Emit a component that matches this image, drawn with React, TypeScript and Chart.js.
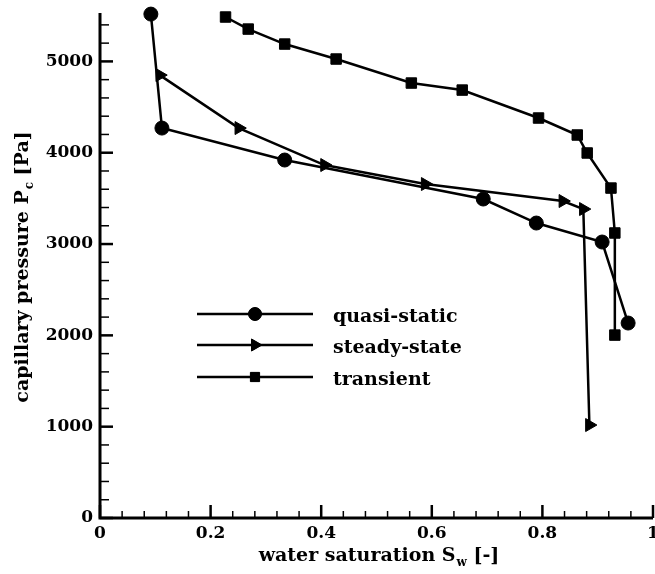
import React, { useEffect, useRef } from 'react';
import { Chart, registerables } from 'chart.js';
import { drawPoint } from 'chart.js/helpers';

Chart.register(...registerables);

// ---- data ----
const seriesNames = ['quasi-static', 'steady-state', 'transient'];

const quasiStaticSw = [0.092, 0.112, 0.334, 0.693, 0.789, 0.908, 0.955];
const quasiStaticPc = [5518, 4270, 3920, 3493, 3230, 3022, 2135];

const steadyStateSw = [0.108, 0.251, 0.406, 0.588, 0.837, 0.874, 0.885];
const steadyStatePc = [4850, 4270, 3865, 3657, 3471, 3383, 1018];

const transientSw = [0.227, 0.268, 0.334, 0.427, 0.563, 0.655, 0.793, 0.863, 0.881, 0.924, 0.931, 0.931];
const transientPc = [5486, 5354, 5190, 5026, 4763, 4686, 4380, 4194, 3997, 3613, 3121, 2003];

const xMajorTicks = [0, 0.2, 0.4, 0.6, 0.8, 1];
const xTickLabels = ['0', '0.2', '0.4', '0.6', '0.8', '1'];
const yMajorTicks = [0, 1000, 2000, 3000, 4000, 5000];
const yTickLabels = ['0', '1000', '2000', '3000', '4000', '5000'];
const xMinorStep = 0.04;
const yMinorStep = 200;
const xMin = 0;
const xMax = 1;
const yMin = 0;
const yMax = 5530;

const xTitle = ['water saturation S', 'w', ' [-]'];
const yTitle = ['capillary pressure P', 'c', ' [Pa]'];

// ---- styling ----
const FONT = 'DejaVu Serif';
const BLACK = '#000';

const pts = (xs: number[], ys: number[]) => xs.map((x, i) => ({ x, y: ys[i] }));

const majorIndex = (arr: number[], v: number) => arr.findIndex((m) => Math.abs(m - v) < 1e-6);

function minorTicks(min: number, max: number, step: number) {
  const out: { value: number }[] = [];
  const n = Math.floor((max - min) / step + 1e-6);
  for (let i = 0; i <= n; i++) out.push({ value: +(min + i * step).toFixed(6) });
  return out;
}

const markerStyles = [
  { pointStyle: 'circle', radius: 7, rotation: 0, legendRadius: 6.5 },
  { pointStyle: 'triangle', radius: 7.5, rotation: 90, legendRadius: 7 },
  { pointStyle: 'rect', radius: 7.4, rotation: 0, legendRadius: 6.5 },
];

function drawSubText(ctx: CanvasRenderingContext2D, parts: string[], cx: number, baseline: number) {
  const mainFont = `bold 19px "${FONT}"`;
  const subFont = `bold 12px "${FONT}"`;
  ctx.font = mainFont;
  const w1 = ctx.measureText(parts[0]).width;
  const w3 = ctx.measureText(parts[2]).width;
  ctx.font = subFont;
  const w2 = ctx.measureText(parts[1]).width;
  const total = w1 + w2 + w3 + 1;
  let x = cx - total / 2;
  ctx.textAlign = 'left';
  ctx.textBaseline = 'alphabetic';
  ctx.font = mainFont;
  ctx.fillText(parts[0], x, baseline);
  x += w1 + 1;
  ctx.font = subFont;
  ctx.fillText(parts[1], x, baseline + 5);
  x += w2;
  ctx.font = mainFont;
  ctx.fillText(parts[2], x, baseline);
}

const decorPlugin = {
  id: 'decor',
  afterDraw(chart: any) {
    const ctx: CanvasRenderingContext2D = chart.ctx;
    const xs = chart.scales.x;
    const ys = chart.scales.y;
    const { left, right, top, bottom } = chart.chartArea;
    ctx.save();
    ctx.strokeStyle = BLACK;
    ctx.fillStyle = BLACK;
    ctx.lineCap = 'butt';

    // inward tick marks
    xs.ticks.forEach((t: any, i: number) => {
      const px = xs.getPixelForTick(i);
      const major = majorIndex(xMajorTicks, t.value) >= 0;
      ctx.lineWidth = major ? 2.5 : 1.5;
      ctx.beginPath();
      ctx.moveTo(px, bottom);
      ctx.lineTo(px, bottom - (major ? 13 : 7));
      ctx.stroke();
    });
    ys.ticks.forEach((t: any, i: number) => {
      const py = ys.getPixelForTick(i);
      const major = majorIndex(yMajorTicks, t.value) >= 0;
      ctx.lineWidth = major ? 2.5 : 1.5;
      ctx.beginPath();
      ctx.moveTo(left, py);
      ctx.lineTo(left + (major ? 13 : 9), py);
      ctx.stroke();
    });

    // axis lines (left and bottom only)
    ctx.lineWidth = 3;
    ctx.beginPath();
    ctx.moveTo(left, top);
    ctx.lineTo(left, bottom + 1.5);
    ctx.moveTo(left - 1.5, bottom);
    ctx.lineTo(right, bottom);
    ctx.stroke();

    // axis titles
    drawSubText(ctx, xTitle, 379, 561);
    ctx.save();
    ctx.translate(28, 267);
    ctx.rotate(-Math.PI / 2);
    drawSubText(ctx, yTitle, 0, 0);
    ctx.restore();

    // legend
    const legendRows = [314, 345, 377];
    const lx0 = 197;
    const lx1 = 313;
    const lmx = 255;
    seriesNames.forEach((name, i) => {
      const y = legendRows[i];
      ctx.lineWidth = 2.5;
      ctx.beginPath();
      ctx.moveTo(lx0, y);
      ctx.lineTo(lx1, y);
      ctx.stroke();
      const m = markerStyles[i];
      ctx.lineWidth = 1;
      drawPoint(ctx, { pointStyle: m.pointStyle as any, radius: m.legendRadius, rotation: m.rotation, borderWidth: 1 } as any, lmx, y);
      ctx.fill();
      ctx.font = `bold 19px "${FONT}"`;
      ctx.textAlign = 'left';
      ctx.textBaseline = 'alphabetic';
      ctx.fillText(name, 333, y + 7.5);
    });
    ctx.restore();
  },
};

export default function App() {
  const canvasRef = useRef<HTMLCanvasElement | null>(null);

  useEffect(() => {
    document.body.style.margin = '0';
    document.body.style.overflow = 'hidden';
    const canvas = canvasRef.current;
    if (!canvas) return;

    const seriesData = [
      pts(quasiStaticSw, quasiStaticPc),
      pts(steadyStateSw, steadyStatePc),
      pts(transientSw, transientPc),
    ];

    const datasets = seriesNames.map((name, i) => ({
      label: name,
      data: seriesData[i],
      borderColor: BLACK,
      backgroundColor: BLACK,
      borderWidth: 2.5,
      pointBackgroundColor: BLACK,
      pointBorderColor: BLACK,
      pointBorderWidth: 1,
      pointRadius: markerStyles[i].radius,
      pointStyle: markerStyles[i].pointStyle as any,
      pointRotation: markerStyles[i].rotation,
      tension: 0,
      fill: false,
      clip: false as any,
    }));

    const tickFont = { family: FONT, weight: 'bold' as any, size: 17 };

    const chart = new Chart(canvas, {
      type: 'line',
      data: { datasets },
      plugins: [decorPlugin],
      options: {
        responsive: false,
        animation: false,
        events: [],
        layout: { autoPadding: false, padding: { top: 13, right: 2, left: 0, bottom: 0 } },
        plugins: {
          legend: { display: false },
          tooltip: { enabled: false },
        },
        scales: {
          x: {
            type: 'linear',
            min: xMin,
            max: xMax,
            grid: { display: false, drawTicks: false, tickLength: 0 },
            border: { display: false },
            afterBuildTicks: (s: any) => {
              s.ticks = minorTicks(xMin, xMax, xMinorStep);
            },
            afterFit: (s: any) => {
              s.height = 56;
              s.paddingLeft = 0;
              s.paddingRight = 0;
            },
            ticks: {
              autoSkip: false,
              maxRotation: 0,
              padding: 5,
              color: BLACK,
              font: tickFont,
              callback: (v: any) => {
                const k = majorIndex(xMajorTicks, Number(v));
                return k >= 0 ? xTickLabels[k] : '';
              },
            },
          },
          y: {
            type: 'linear',
            min: yMin,
            max: yMax,
            grid: { display: false, drawTicks: false, tickLength: 0 },
            border: { display: false },
            afterBuildTicks: (s: any) => {
              s.ticks = minorTicks(yMin, yMax, yMinorStep);
            },
            afterFit: (s: any) => {
              s.width = 100;
              s.paddingTop = 0;
              s.paddingBottom = 0;
            },
            ticks: {
              autoSkip: false,
              padding: 7,
              color: BLACK,
              font: tickFont,
              callback: (v: any) => {
                const k = majorIndex(yMajorTicks, Number(v));
                return k >= 0 ? yTickLabels[k] : '';
              },
            },
          },
        },
      } as any,
    });

    return () => chart.destroy();
  }, []);

  return (
    <div style={{ position: 'absolute', left: 0, top: 0, width: 655, height: 574, overflow: 'hidden', background: '#fff' }}>
      <canvas ref={canvasRef} width={655} height={574} style={{ width: 655, height: 574, display: 'block' }} />
    </div>
  );
}
